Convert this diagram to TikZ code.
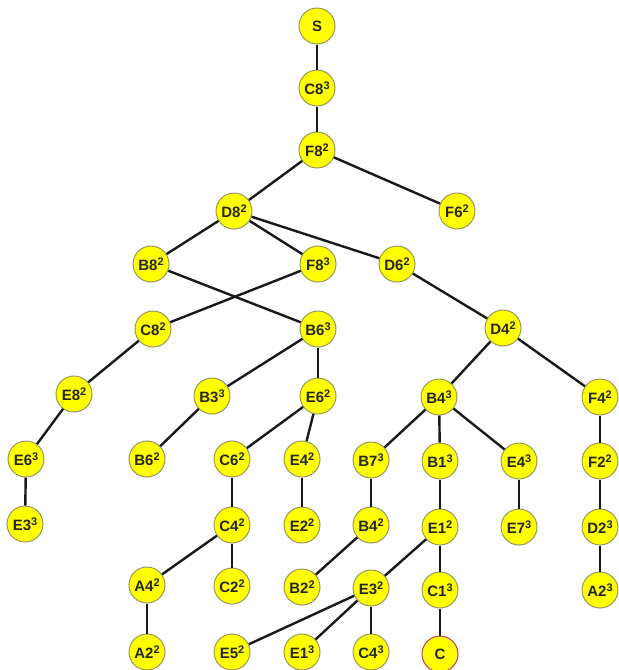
\documentclass[tikz,border=0pt]{standalone}
\usepackage{fontspec}
\setmainfont{Liberation Sans}
\definecolor{nodefill}{RGB}{255,255,0}
\definecolor{nodeline}{RGB}{150,150,100}
\definecolor{goalline}{RGB}{190,60,110}
\begin{document}
\begin{tikzpicture}[x=1pt,y=-1pt,
  st/.style={circle,fill=nodefill,draw=nodeline,line width=1pt,minimum size=36pt,inner sep=0pt,font=\fontsize{15}{15}\selectfont\bfseries,text=black!85},
  goal/.style={st,draw=goalline},
  edge/.style={line width=2.4pt,black!90}]
\useasboundingbox (0,0) rectangle (619,670);
\newcommand{\lb}[2]{#1\raisebox{4.5pt}{\fontsize{11}{11}\selectfont #2}}
% nodes
\node[st] (S) at (317,26) {S};
\node[st] (C83) at (317,88) {\lb{C8}{3}};
\node[st] (F82) at (317,150) {\lb{F8}{2}};
\node[st] (D82) at (234,211) {\lb{D8}{2}};
\node[st] (F62) at (457,211) {\lb{F6}{2}};
\node[st] (B82) at (151,264) {\lb{B8}{2}};
\node[st] (F83) at (318,264) {\lb{F8}{3}};
\node[st] (D62) at (397,264) {\lb{D6}{2}};
\node[st] (C82) at (153,329) {\lb{C8}{2}};
\node[st] (B63) at (318,329) {\lb{B6}{3}};
\node[st] (D42) at (503,328) {\lb{D4}{2}};
\node[st] (E82) at (74,394) {\lb{E8}{2}};
\node[st] (B33) at (212,396) {\lb{B3}{3}};
\node[st] (E62) at (318,396) {\lb{E6}{2}};
\node[st] (B43) at (439,397) {\lb{B4}{3}};
\node[st] (F42) at (600,397) {\lb{F4}{2}};
\node[st] (E63) at (26,459) {\lb{E6}{3}};
\node[st] (B62) at (147,459) {\lb{B6}{2}};
\node[st] (C62) at (232,459) {\lb{C6}{2}};
\node[st] (E42) at (302,459) {\lb{E4}{2}};
\node[st] (B73) at (371,460) {\lb{B7}{3}};
\node[st] (B13) at (440,461) {\lb{B1}{3}};
\node[st] (E43) at (519,461) {\lb{E4}{3}};
\node[st] (F22) at (600,461) {\lb{F2}{2}};
\node[st] (E33) at (25,524) {\lb{E3}{3}};
\node[st] (C42) at (232,525) {\lb{C4}{2}};
\node[st] (E22) at (302,525) {\lb{E2}{2}};
\node[st] (B42) at (371,525) {\lb{B4}{2}};
\node[st] (E12) at (440,527) {\lb{E1}{2}};
\node[st] (E73) at (519,527) {\lb{E7}{3}};
\node[st] (D23) at (600,527) {\lb{D2}{3}};
\node[st] (A42) at (147,585) {\lb{A4}{2}};
\node[st] (C22) at (232,586) {\lb{C2}{2}};
\node[st] (B22) at (302,587) {\lb{B2}{2}};
\node[st] (E32) at (371,588) {\lb{E3}{2}};
\node[st] (C13) at (440,590) {\lb{C1}{3}};
\node[st] (A23) at (600,590) {\lb{A2}{3}};
\node[st] (A22) at (147,652) {\lb{A2}{2}};
\node[st] (E52) at (232,652) {\lb{E5}{2}};
\node[st] (E13) at (302,652) {\lb{E1}{3}};
\node[st] (C43) at (371,652) {\lb{C4}{3}};
\node[goal] (C) at (440,654) {C};
% edges
\foreach \a/\b in {S/C83,C83/F82,F82/D82,F82/F62,D82/B82,D82/F83,D82/D62,B82/B63,F83/C82,D62/D42,
  C82/E82,B63/B33,B63/E62,D42/B43,D42/F42,E82/E63,E63/E33,B33/B62,E62/C62,E62/E42,
  B43/B73,B43/B13,B43/E43,F42/F22,C62/C42,E42/E22,B73/B42,B13/E12,E43/E73,F22/D23,
  C42/A42,C42/C22,B42/B22,E12/E32,E12/C13,D23/A23,A42/A22,E32/E52,E32/E13,E32/C43,C13/C}
  \draw[edge] (\a) -- (\b);
\end{tikzpicture}
\end{document}
